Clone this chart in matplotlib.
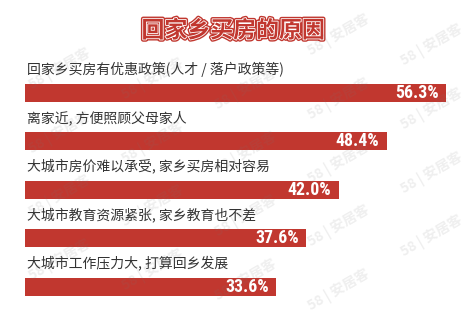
import matplotlib
matplotlib.use("Agg")
import matplotlib.pyplot as plt
import matplotlib.patheffects as pe
from matplotlib import font_manager as fm

categories = [
    "回家乡买房有优惠政策(人才 / 落户政策等)",
    "离家近, 方便照顾父母家人",
    "大城市房价难以承受, 家乡买房相对容易",
    "大城市教育资源紧张, 家乡教育也不差",
    "大城市工作压力大, 打算回乡发展",
]
values = [56.3, 48.4, 42.0, 37.6, 33.6]
value_labels = ["56.3%", "48.4%", "42.0%", "37.6%", "33.6%"]
title = "回家乡买房的原因"

RED = "#c1372f"
W, H = 476, 318
plt.rcParams['font.family'] = ['Noto Sans CJK SC', 'DejaVu Sans']

names = {f.name for f in fm.fontManager.ttflist}
narrow_fams = [n for n in ["Liberation Sans Narrow", "Roboto Condensed", "Open Sans Condensed",
                           "DejaVu Sans Condensed", "DejaVu Sans"] if n in names]
narrow = fm.FontProperties(family=narrow_fams[0], weight="bold", stretch="condensed", size=12.8)

fig = plt.figure(figsize=(W / 100, H / 100), dpi=100)
fig.patch.set_facecolor("white")
ax = fig.add_axes([0, 0, 1, 1])
ax.set_axis_off()

px_per_unit = 421 / 56.3
left_px = 25
ax.set_xlim(-left_px / px_per_unit, (W - left_px) / px_per_unit)
row_px = 48.5
first_px = 93
ax.set_ylim((H - first_px) / row_px, -first_px / row_px)

ypos = list(range(len(categories)))
ax.barh(ypos, values, height=18 / row_px, color=RED, zorder=2)

for i, (cat, v, lab) in enumerate(zip(categories, values, value_labels)):
    ax.annotate(cat, xy=(0, i - 24 / row_px), xytext=(1.6, 0), textcoords="offset points",
                ha="left", va="center", fontsize=10, color="#333333", zorder=3)
    ax.annotate(lab, xy=(v, i), xytext=(-5.5, 0), textcoords="offset points",
                ha="right", va="center", color="white", fontproperties=narrow, zorder=3)

fig.text(233 / W, 1 - 31 / H, title, ha="center", va="center", fontsize=16.5,
         fontweight="bold", color=RED, zorder=5,
         path_effects=[pe.Stroke(linewidth=3.2, foreground=RED),
                       pe.Stroke(linewidth=1.2, foreground="white"),
                       pe.Normal()])

# watermark
for k in range(-1, 5):
    for j in range(-1, 6):
        cx = 27 + 93 * j + 33
        cy = 22 + 63.8 * k + 10 * j - 17
        if 35 < cx < W - 35 and 25 < cy < H - 25:
            fig.text(cx / W, 1 - cy / H, "58 | 安居客", ha="center", va="center",
                     rotation=30, rotation_mode="anchor", fontsize=10, fontweight="bold",
                     color="#777777", alpha=0.12, zorder=10)

fig.savefig("out.png", dpi=100)
